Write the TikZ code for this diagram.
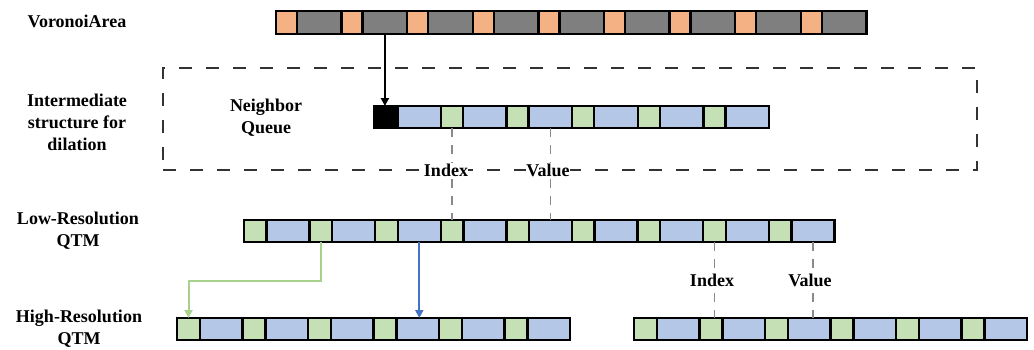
\documentclass[tikz,border=0pt]{standalone}
\usepackage{fontspec}
\setmainfont{Liberation Serif}
\usetikzlibrary{arrows.meta}
\definecolor{corange}{HTML}{F4B183}
\definecolor{cgray}{HTML}{7F7F7F}
\definecolor{cblue}{HTML}{B4C7E7}
\definecolor{cgreen}{HTML}{C5E0B4}
\definecolor{agreen}{HTML}{A9D18E}
\definecolor{ablue}{HTML}{4472C4}
\definecolor{dgray}{HTML}{333333}
\definecolor{lgray}{HTML}{8A8A8A}
\begin{document}
\begin{tikzpicture}[x=1pt,y=-1pt,
  cell/.style={draw=black, line width=2.3pt, minimum height=22pt, inner sep=0pt, outer sep=0pt, anchor=north west},
  lbl/.style={font=\bfseries\fontsize{18}{22}\selectfont, align=center, text=black, inner sep=1pt},
  tag/.style={font=\bfseries\fontsize{18}{22}\selectfont, fill=white, inner xsep=0pt, inner ysep=1pt},
  frame/.style={draw=dgray, line width=1.4pt, dash pattern=on 13pt off 14pt},
  guide/.style={draw=lgray, line width=1.6pt, dash pattern=on 9pt off 8pt},
  arr/.style={line width=2pt, -{Triangle[length=8pt,width=8pt]}}]
\useasboundingbox (0,0) rectangle (1034,349);
% left labels
\node[lbl] (tv) at (77,21) {VoronoiArea};
\node[lbl] (ti) at (77,122) {Intermediate\\structure for\\dilation};
\node[lbl] (tl) at (78,231) {Low-Resolution\\QTM};
\node[lbl] (th) at (79,329) {High-Resolution\\QTM};
% dashed frame
\node[frame, minimum width=814pt, minimum height=102pt, inner sep=0pt] (box) at (570,119) {};
\node[lbl] (tq) at (266,118) {Neighbor\\Queue};
% VoronoiArea row
\foreach \i in {0,...,8} {
  \node[cell, fill=corange, minimum width=21pt, minimum height=23pt] (va-o\i) at ({276+\i*65.6},11) {};
  \node[cell, fill=cgray, minimum width=44.6pt, minimum height=23pt] (va-g\i) at ({297+\i*65.6},11) {};
}
% Neighbor queue
\node[cell, fill=black, minimum width=23.4pt] (nq-k) at (374,106) {};
\foreach \i in {0,...,5} {
  \node[cell, fill=cblue, minimum width=43.6pt] (nq-b\i) at ({397.4+\i*65.6},106) {};
}
\foreach \i in {0,...,4} {
  \node[cell, fill=cgreen, minimum width=22pt] (nq-g\i) at ({441+\i*65.6},106) {};
}
% Low resolution row
\foreach \i in {0,...,8} {
  \node[cell, fill=cgreen, minimum width=22.6pt] (lo-g\i) at ({244+\i*65.6},220) {};
  \node[cell, fill=cblue, minimum width=43pt] (lo-b\i) at ({266.6+\i*65.6},220) {};
}
% High resolution rows
\foreach \i in {0,...,5} {
  \node[cell, fill=cgreen, minimum width=23pt] (hl-g\i) at ({177+\i*65.5},318) {};
  \node[cell, fill=cblue, minimum width=42.5pt] (hl-b\i) at ({200+\i*65.5},318) {};
  \node[cell, fill=cgreen, minimum width=23pt] (hr-g\i) at ({634+\i*65.5},318) {};
  \node[cell, fill=cblue, minimum width=42.5pt] (hr-b\i) at ({657+\i*65.5},318) {};
}
% guides upper
\draw[guide] (nq-g0.south) -- (nq-g0.south |- lo-g3.north);
\draw[guide] (nq-b2.south) -- (nq-b2.south |- lo-b4.north);
\node[tag] (ix1) at (446,170) {Index};
\node[tag] (vl1) at (548,170) {Value};
% guides lower right
\draw[guide] (lo-g7.south) -- (lo-g7.south |- hr-g1.north);
\draw[guide] (lo-b8.south) -- (lo-b8.south |- hr-b2.north);
\node[tag, inner xsep=1pt] (ix2) at (712,280) {Index};
\node[tag, inner xsep=1pt] (vl2) at (810,280) {Value};
% arrows
\coordinate (bend) at (0,281);
\draw[arr, black] (va-g1.south) -- (va-g1.south |- nq-k.north);
\draw[arr, agreen] (lo-g1.south) -- (lo-g1.south |- bend) -| (hl-g0.north);
\draw[arr, ablue] (lo-b2.south) -- (lo-b2.south |- hl-b3.north);
\end{tikzpicture}
\end{document}
